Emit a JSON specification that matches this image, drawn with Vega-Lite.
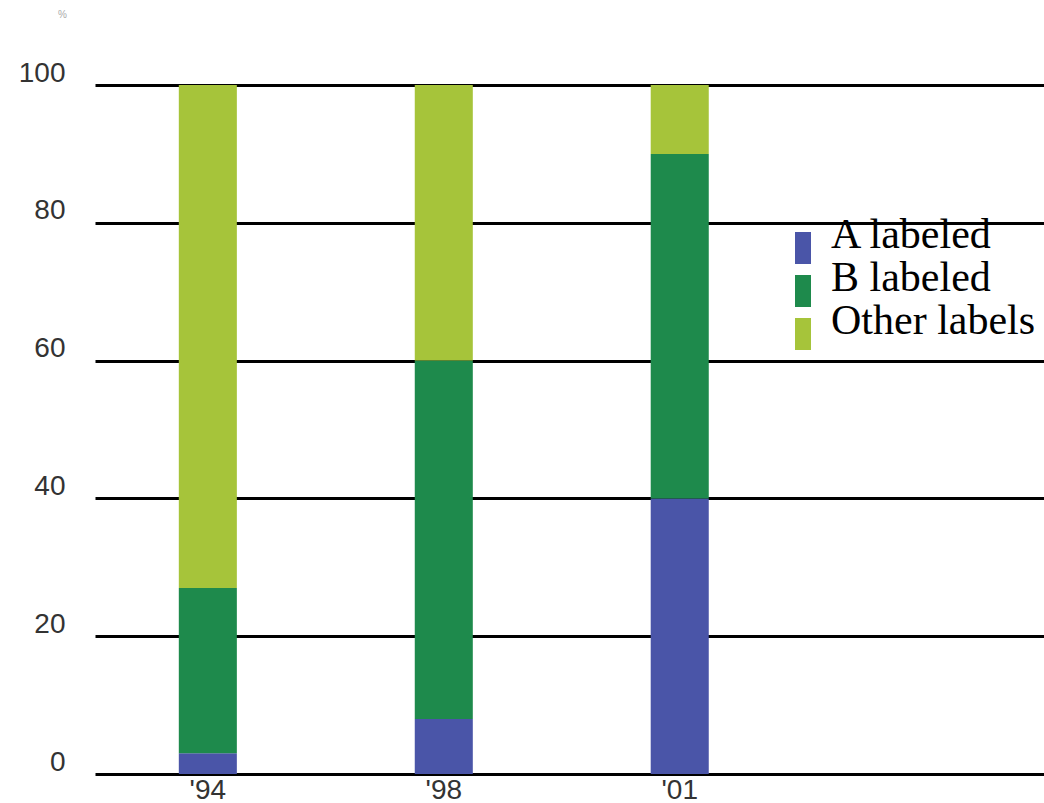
{
  "$schema": "https://vega.github.io/schema/vega-lite/v6.json",
  "autosize": {"type": "none"},
  "padding": {"left": 95, "top": 85, "right": 0, "bottom": 29},
  "width": 949,
  "height": 689,
  "background": "white",
  "config": {
    "view": {"stroke": null},
    "axis": {"labelFont": "Liberation Sans", "labelColor": "#333", "labelFontSize": 28}
  },
  "data": {
    "values": [
      {"year": "'94", "group": "A labeled", "rank": 1, "share": 3},
      {"year": "'94", "group": "B labeled", "rank": 2, "share": 24},
      {"year": "'94", "group": "Other labels", "rank": 3, "share": 73},
      {"year": "'98", "group": "A labeled", "rank": 1, "share": 8},
      {"year": "'98", "group": "B labeled", "rank": 2, "share": 52},
      {"year": "'98", "group": "Other labels", "rank": 3, "share": 40},
      {"year": "'01", "group": "A labeled", "rank": 1, "share": 40},
      {"year": "'01", "group": "B labeled", "rank": 2, "share": 50},
      {"year": "'01", "group": "Other labels", "rank": 3, "share": 10}
    ]
  },
  "mark": {"type": "bar"},
  "encoding": {
    "x": {
      "field": "year",
      "type": "ordinal",
      "sort": ["'94", "'98", "'01"],
      "scale": {"paddingInner": 0.754, "paddingOuter": 0.888, "align": 0.2},
      "axis": {
        "title": null,
        "labelAngle": 0,
        "ticks": false,
        "tickSize": 0,
        "domain": false,
        "grid": false,
        "labelPadding": 2,
        "labelDx": 4,
        "labelBaseline": "top"
      }
    },
    "y": {
      "field": "share",
      "type": "quantitative",
      "stack": "zero",
      "scale": {"domain": [0, 100], "nice": false},
      "axis": {
        "values": [0, 20, 40, 60, 80, 100],
        "title": "%",
        "titleAngle": 0,
        "titleX": -33,
        "titleY": -66,
        "titleFontSize": 10,
        "titleFontWeight": "normal",
        "titleColor": "#aaa",
        "titleFont": "Liberation Sans",
        "domain": false,
        "ticks": false,
        "tickSize": 0,
        "labelPadding": 30,
        "labelBaseline": "alphabetic",
        "labelOffset": -4,
        "grid": true,
        "gridColor": "#000",
        "gridWidth": 3,
        "gridOpacity": 1
      }
    },
    "color": {
      "field": "group",
      "type": "nominal",
      "scale": {
        "domain": ["A labeled", "B labeled", "Other labels"],
        "range": ["#4a55a8", "#1e8a4c", "#a6c43a"]
      },
      "legend": {
        "title": null,
        "orient": "none",
        "legendX": 687,
        "legendY": 142,
        "padding": 0,
        "symbolType": "M-0.5,-1L0.5,-1L0.5,1L-0.5,1Z",
        "symbolSize": 1024,
        "symbolStrokeWidth": 0,
        "labelFont": "Liberation Serif",
        "labelFontSize": 42,
        "labelColor": "#000",
        "labelBaseline": "alphabetic",
        "labelOffset": 7,
        "labelLimit": 400,
        "rowPadding": -7
      }
    },
    "order": {"field": "rank", "type": "quantitative", "sort": "ascending"}
  }
}
